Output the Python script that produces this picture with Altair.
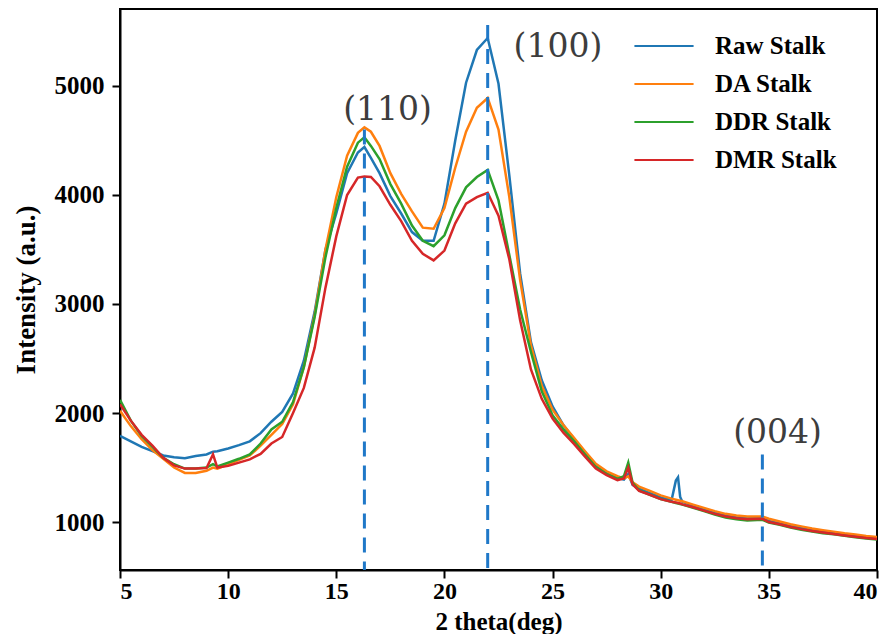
import altair as alt
import pandas as pd

two_theta = [5, 5.5, 6, 6.5, 7, 7.5, 8, 8.5, 9, 9.3,
             9.5, 10, 10.5, 11, 11.5, 12, 12.5, 13, 13.5, 14,
             14.5, 15, 15.5, 16, 16.3, 16.6, 17, 17.5, 18, 18.5,
             19, 19.5, 20, 20.5, 21, 21.5, 22, 22.5, 23, 23.5,
             24, 24.5, 25, 25.5, 26, 26.5, 27, 27.5, 28, 28.3,
             28.5, 28.7, 29, 29.5, 30, 30.5, 30.7, 30.8, 30.9, 31,
             31.5, 32, 32.5, 33, 33.5, 34, 34.7, 35, 35.5, 36,
             36.5, 37, 37.5, 38, 38.5, 39, 39.5, 40]

raw_stalk = [1790, 1740, 1690, 1650, 1610, 1595, 1585, 1605, 1620, 1645,
             1650, 1675, 1705, 1740, 1815, 1920, 2010, 2180, 2480, 2930,
             3500, 3830, 4200, 4390, 4440, 4340, 4200, 3990, 3830, 3660,
             3580, 3580, 3920, 4500, 5030, 5330, 5440, 5020, 4180, 3280,
             2650, 2300, 2060, 1890, 1760, 1640, 1520, 1450, 1405, 1390,
             1440, 1340, 1305, 1265, 1225, 1200, 1380, 1410, 1230, 1185,
             1150, 1115, 1085, 1060, 1045, 1035, 1035, 1010, 990, 965,
             945, 925, 912, 900, 885, 872, 860, 850]

da_stalk = [2020, 1880, 1760, 1660, 1580, 1500, 1450, 1450, 1470, 1500,
            1490, 1530, 1570, 1610, 1700, 1800, 1900, 2080, 2420, 2900,
            3500, 3980, 4360, 4570, 4620, 4580, 4450, 4200, 4010, 3850,
            3700, 3690, 3880, 4250, 4580, 4800, 4890, 4600, 3980, 3220,
            2620, 2250, 2030, 1890, 1770, 1650, 1535, 1465, 1420, 1400,
            1420, 1365, 1325, 1285, 1245, 1215, 1205, 1200, 1195, 1190,
            1160, 1130, 1100, 1075, 1060, 1050, 1050, 1030, 1005, 980,
            960, 940, 925, 912, 897, 885, 872, 862]

ddr_stalk = [2120, 1930, 1790, 1690, 1590, 1530, 1490, 1490, 1500, 1530,
             1510, 1545, 1580, 1620, 1720, 1850, 1920, 2100, 2420, 2880,
             3430, 3880, 4260, 4480, 4530, 4450, 4330, 4100, 3920, 3720,
             3580, 3530, 3630, 3880, 4070, 4165, 4230, 3950, 3450, 2950,
             2560, 2200, 1980, 1850, 1740, 1620, 1505, 1440, 1395, 1420,
             1545, 1360, 1290, 1250, 1210, 1185, 1175, 1170, 1165, 1160,
             1130, 1100, 1068, 1042, 1025, 1015, 1020, 995, 975, 950,
             930, 912, 898, 888, 873, 860, 848, 840]

dmr_stalk = [2080, 1930, 1800, 1700, 1590, 1520, 1490, 1490, 1495, 1620,
             1500, 1515, 1545, 1575, 1625, 1720, 1780, 2000, 2230, 2600,
             3150, 3620, 4000, 4160, 4170, 4165, 4080, 3910, 3760, 3580,
             3460, 3400, 3490, 3740, 3920, 3980, 4020, 3810, 3410, 2850,
             2400, 2130, 1950, 1820, 1715, 1600, 1490, 1430, 1385, 1400,
             1500, 1345, 1285, 1250, 1210, 1185, 1180, 1175, 1170, 1162,
             1135, 1105, 1075, 1050, 1035, 1025, 1030, 1000, 980, 955,
             935, 918, 903, 890, 877, 865, 853, 845]

series_names = ["Raw Stalk", "DA Stalk", "DDR Stalk", "DMR Stalk"]
series_colors = ["#1f77b4", "#ff7f0e", "#2ca02c", "#d62728"]

x_ticks = [5, 10, 15, 20, 25, 30, 35, 40]
y_ticks = [1000, 2000, 3000, 4000, 5000]
x_domain = [5, 40]
y_domain = [560, 5706]

peak_x = [16.3, 22.0, 34.7]
peak_top = [4600, 5560, 1620]
peak_labels = ["(110)", "(100)", "(004)"]
label_x = [17.37, 25.25, 35.4]
label_y = [4688, 5266, 1725]

rows = []
for name, ys in zip(series_names, [raw_stalk, da_stalk, ddr_stalk, dmr_stalk]):
    for i, (x, y) in enumerate(zip(two_theta, ys)):
        rows.append({"series": name, "x": x, "y": y, "idx": i})
df = pd.DataFrame(rows)

peaks = pd.DataFrame({"x": peak_x, "top": peak_top, "bottom": [y_domain[0]] * len(peak_x)})
labels = pd.DataFrame({"x": label_x, "y": label_y, "text": peak_labels})

FONT = "Liberation Serif"
x_scale = alt.Scale(domain=x_domain, nice=False, zero=False)
y_scale = alt.Scale(domain=y_domain, nice=False, zero=False)

x_axis = alt.Axis(values=x_ticks, format="d", title="2 theta(deg)", grid=False,
                  labelFont=FONT, labelFontWeight="bold", labelFontSize=24, labelColor="black",
                  labelPadding=1, tickSize=8, tickWidth=2, tickColor="black",
                  domainColor="black", domainWidth=2,
                  titleFont=FONT, titleFontWeight="bold", titleFontSize=25, titleColor="black",
                  titleBaseline="alphabetic", titleY=59)
y_axis = alt.Axis(values=y_ticks, format="d", title="Intensity (a.u.)", grid=False,
                  labelFont=FONT, labelFontWeight="bold", labelFontSize=25, labelColor="black",
                  labelPadding=8, tickSize=8, tickWidth=2, tickColor="black",
                  domainColor="black", domainWidth=2,
                  titleFont=FONT, titleFontWeight="bold", titleFontSize=27, titleColor="black",
                  titlePadding=14)

lines = alt.Chart(df).mark_line(strokeWidth=2.5, clip=True).encode(
    x=alt.X("x:Q", scale=x_scale, axis=x_axis),
    y=alt.Y("y:Q", scale=y_scale, axis=y_axis),
    color=alt.Color("series:N", sort=series_names,
                    scale=alt.Scale(domain=series_names, range=series_colors),
                    legend=alt.Legend(orient="none", legendX=513, legendY=22, title=None,
                                      symbolType="stroke", symbolSize=3500, symbolStrokeWidth=2,
                                      clipHeight=30, rowPadding=8, padding=0,
                                      labelFont=FONT, labelFontWeight="bold", labelFontSize=25,
                                      labelColor="black", labelOffset=20, labelLimit=300)),
    order=alt.Order("idx:Q"),
)

rules = alt.Chart(peaks).mark_rule(strokeDash=[15, 9], strokeWidth=3, color="#1f78c8").encode(
    x=alt.X("x:Q", scale=x_scale),
    y=alt.Y("top:Q", scale=y_scale),
    y2="bottom:Q",
)

texts = alt.Chart(labels).mark_text(font="DejaVu Serif", fontSize=33, color="#3d3d3d",
                                     align="center", baseline="alphabetic").encode(
    x=alt.X("x:Q", scale=x_scale),
    y=alt.Y("y:Q", scale=y_scale),
    text="text:N",
)

chart = alt.layer(lines, rules, texts).properties(
    width=757, height=561,
    autosize=alt.AutoSizeParams(type="none"),
    padding={"left": 112, "top": 1, "right": 7, "bottom": 64},
    background="white",
).configure_view(stroke="black", strokeWidth=2)

chart.save("out.html", embed_options={"renderer": "svg", "actions": False})
